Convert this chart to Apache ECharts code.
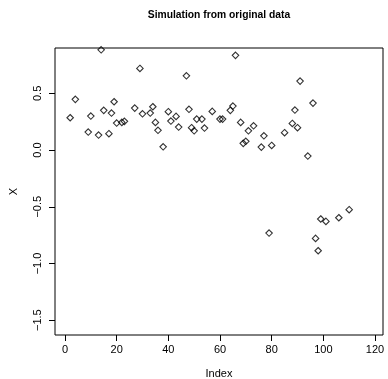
<!DOCTYPE html>
<html>
<head>
<meta charset="utf-8">
<script src="https://cdn.jsdelivr.net/npm/echarts@6/dist/echarts.min.js"></script>
<style>html,body{margin:0;padding:0;background:#fff}#c{width:388px;height:379px}</style>
</head>
<body>
<div id="c"></div>
<script>
var indexValues = [2,4,9,10,13,14,15,17,18,19,20,22,23,27,29,30,33,34,35,36,38,40,41,43,44,47,48,49,50,51,53,54,57,60,61,64,65,66,68,69,70,71,73,76,77,79,80,85,88,89,90,91,94,96,97,98,99,101,106,110];
var xValues = [0.285,0.447,0.159,0.300,0.132,0.884,0.350,0.144,0.326,0.426,0.238,0.244,0.253,0.370,0.720,0.320,0.326,0.382,0.244,0.174,0.029,0.338,0.256,0.297,0.203,0.655,0.359,0.197,0.170,0.273,0.273,0.194,0.341,0.273,0.273,0.350,0.388,0.835,0.244,0.059,0.077,0.170,0.214,0.026,0.126,-0.732,0.041,0.153,0.235,0.353,0.197,0.608,-0.053,0.414,-0.779,-0.888,-0.608,-0.629,-0.597,-0.526];
var xTicks = [0,20,40,60,80,100,120];
var yTicks = [-1.5,-1.0,-0.5,0.0,0.5];
var titleText = 'Simulation from original data';

var pts = indexValues.map(function(v,i){return [v, xValues[i]];});
var font = 'Liberation Sans, Arial, Helvetica, sans-serif';
var chart = echarts.init(document.getElementById('c'), null, {renderer:'canvas'});
chart.setOption({
  animation:false,
  backgroundColor:'#fff',
  title:{text:titleText,left:214,top:5,textAlign:'center',
    textStyle:{fontFamily:font,fontSize:10.3,fontWeight:'bold',color:'#000'}},
  grid:{left:55,right:5,top:48,bottom:44,show:true,borderColor:'#000',borderWidth:1,
    backgroundColor:'transparent',outerBoundsMode:'none',containLabel:false},
  xAxis:{type:'value',min:-3.87,max:123.1,
    name:'Index',nameLocation:'middle',nameGap:33,
    nameTextStyle:{fontFamily:font,fontSize:11,color:'#000'},
    axisLine:{show:false,onZero:false},splitLine:{show:false},
    axisTick:{show:true,inside:false,length:6,customValues:xTicks,lineStyle:{color:'#000'}},
    axisLabel:{customValues:xTicks,margin:9,fontFamily:font,fontSize:11,color:'#000'}},
  yAxis:{type:'value',min:-1.631,max:0.9,
    name:'X',nameLocation:'middle',nameGap:36,nameRotate:90,
    nameTextStyle:{fontFamily:font,fontSize:11,color:'#000'},
    axisLine:{show:false,onZero:false},splitLine:{show:false},
    axisTick:{show:true,inside:false,length:6,customValues:yTicks,lineStyle:{color:'#000'}},
    axisLabel:{customValues:yTicks,rotate:90,margin:12,fontFamily:font,fontSize:11,color:'#000',
      formatter:function(v){var s=v.toFixed(1);return s.replace('-','\u2212');}}},
  series:[{type:'scatter',data:pts,symbol:'diamond',symbolSize:6.5,
    itemStyle:{color:'rgba(255,255,255,0)',borderColor:'#000',borderWidth:1.1}}]
});
</script>
</body>
</html>
